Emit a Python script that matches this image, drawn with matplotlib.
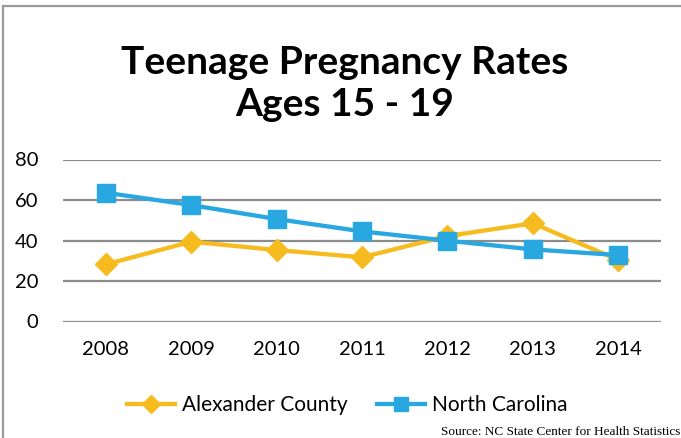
import matplotlib
matplotlib.use("Agg")
import matplotlib.pyplot as plt
from matplotlib.lines import Line2D

# ---------- Data ----------
years = ["2008", "2009", "2010", "2011", "2012", "2013", "2014"]
alexander = [28.2, 39.4, 35.3, 31.7, 42.2, 48.5, 30.4]
north_carolina = [63.6, 57.5, 50.6, 44.5, 39.9, 35.6, 32.8]
y_ticks = [0, 20, 40, 60, 80]

YELLOW = "#F6BB1F"
BLUE = "#29A7E1"
GRID = "#8C8C8C"

plt.rcParams["font.family"] = ["Lato", "DejaVu Sans"]

W, H = 681, 438
fig = plt.figure(figsize=(W / 100, H / 100), dpi=100)
fig.patch.set_facecolor("white")

# plot area in pixels: x 63..661, y 159.5..321.5
ax = fig.add_axes([63 / W, (H - 321.5) / H, (661 - 63) / W, (321.5 - 159.5) / H])
x = list(range(len(years)))

ax.plot(x, alexander, color=YELLOW, lw=3.1, marker="D", ms=11, mfc=YELLOW, mec=YELLOW,
        label="Alexander County", zorder=3, solid_joinstyle="round")
ax.plot(x, north_carolina, color=BLUE, lw=3.1, marker="s", ms=12.5, mfc=BLUE, mec=BLUE,
        label="North Carolina", zorder=4, solid_joinstyle="round")

ax.set_xlim(-0.5, len(years) - 0.5)
ax.set_ylim(0, 80)
ax.set_yticks(y_ticks)
ax.set_xticks(x)
ax.set_xticklabels(years)
ax.yaxis.grid(True, color=GRID, lw=1.6)
ax.set_axisbelow(True)
for s in ax.spines.values():
    s.set_visible(False)
ax.tick_params(axis="both", length=0, labelsize=14.5, colors="black")
ax.tick_params(axis="y", pad=18)
ax.tick_params(axis="x", pad=14)

# ---------- Title ----------
fig.text(345 / W, 1 - 62 / H, "Teenage Pregnancy Rates", ha="center", va="center",
         fontsize=28, fontweight="bold")
fig.text(345 / W, 1 - 105 / H, "Ages 15 - 19", ha="center", va="center",
         fontsize=28, fontweight="bold")

# ---------- Legend ----------
leg = fig.legend(loc="center", bbox_to_anchor=(347 / W, 1 - 405 / H), ncol=2,
                 frameon=False, fontsize=15, handlelength=2.3, columnspacing=1.4,
                 handletextpad=0.35, markerscale=0.85)

# ---------- Source ----------
fig.text(680 / W, 1 - 432 / H, "Source: NC State Center for Health Statistics",
         ha="right", va="center", fontsize=9.5, family=["Liberation Serif", "DejaVu Serif"])

# ---------- Frame ----------
fig.add_artist(Line2D([3 / W, 1], [1 - 6 / H, 1 - 6 / H], color="#9A9A9A", lw=1.6,
                      transform=fig.transFigure))
fig.add_artist(Line2D([3 / W, 3 / W], [1 - 6 / H, 0], color="#9A9A9A", lw=1.6,
                      transform=fig.transFigure))

fig.savefig("out.png", dpi=100)
